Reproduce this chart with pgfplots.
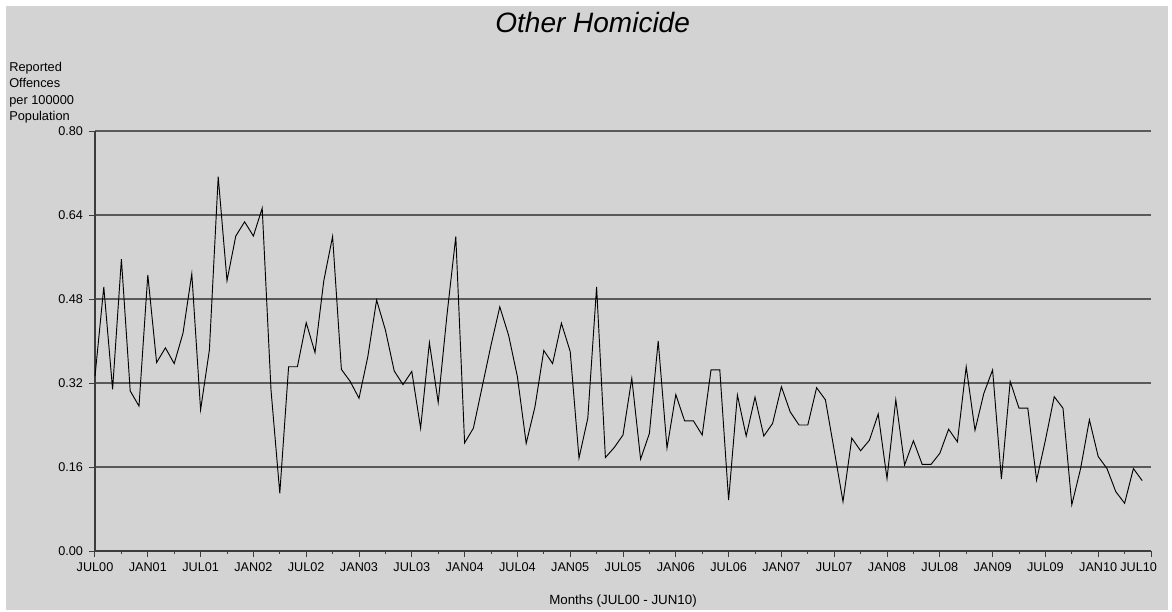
\documentclass[border=0pt]{standalone}
\usepackage{pgfplots}
\pgfplotsset{compat=1.18}
\usepackage{fontspec}
\setmainfont{Liberation Sans}
\definecolor{bggray}{RGB}{211,211,211}
\definecolor{gridc}{RGB}{90,90,90}
\definecolor{axc}{RGB}{60,60,60}
\begin{document}
\begin{tikzpicture}
\fill[white] (0pt,0pt) rectangle (879pt,-458.25pt);
\fill[bggray] (4.5pt,-4.5pt) rectangle (876pt,-457.5pt);
\node[font=\fontsize{21}{25}\selectfont\itshape] at (444.5pt,-17pt) {Other Homicide};
\node[anchor=north west, align=left, inner sep=0pt, font=\fontsize{9.6}{12.3}\selectfont] at (6.75pt,-46.5pt) {Reported\\Offences\\per 100000\\Population};
\node[font=\fontsize{10}{12}\selectfont] at (467.25pt,-451pt) {Months (JUL00 - JUN10)};
\begin{axis}[
  at={(71.25pt,-413.25pt)}, anchor=south west,
  scale only axis, width=792pt, height=315pt,
  xmin=0, xmax=120, ymin=0, ymax=0.8,
  axis x line*=bottom, axis y line*=left,
  axis line style={axc, line width=0.9pt, -},
  xtick={0,6,...,120},
  xticklabels={JUL00,JAN01,JUL01,JAN02,JUL02,JAN03,JUL03,JAN04,JUL04,JAN05,JUL05,JAN06,JUL06,JAN07,JUL07,JAN08,JUL08,JAN09,JUL09,JAN10,{\kern9pt\makebox[0pt][r]{JUL10}}},
  minor xtick={3,9,...,117},
  ytick={0,0.16,0.32,0.48,0.64,0.8},
  yticklabels={0.00,0.16,0.32,0.48,0.64,0.80},
  tick align=outside,
  major tick length=4.5pt, minor tick length=2.25pt,
  tick style={axc, line width=0.75pt},
  ymajorgrids, grid style={gridc, line width=0.9pt},
  ticklabel style={font=\fontsize{9.5}{11}\selectfont, text=black},
  xticklabel style={yshift=-1pt},
  yticklabel style={xshift=-1pt},
  clip=false,
]
\addplot[black, line width=0.7pt, mark=none] table[x=i, y=v] {
i v
0 0.333
1 0.503
2 0.308
3 0.556
4 0.305
5 0.276
6 0.526
7 0.359
8 0.387
9 0.357
10 0.415
11 0.528
12 0.269
13 0.383
14 0.713
15 0.515
16 0.600
17 0.627
18 0.600
19 0.653
20 0.307
21 0.110
22 0.351
23 0.351
24 0.435
25 0.378
26 0.515
27 0.599
28 0.346
29 0.323
30 0.291
31 0.370
32 0.478
33 0.421
34 0.343
35 0.317
36 0.342
37 0.234
38 0.397
39 0.283
40 0.45
41 0.599
42 0.206
43 0.234
44 0.313
45 0.392
46 0.465
47 0.411
48 0.332
49 0.205
50 0.275
51 0.382
52 0.357
53 0.434
54 0.380
55 0.177
56 0.253
57 0.503
58 0.178
59 0.197
60 0.221
61 0.329
62 0.175
63 0.224
64 0.400
65 0.196
66 0.298
67 0.248
68 0.248
69 0.221
70 0.345
71 0.345
72 0.097
73 0.297
74 0.219
75 0.293
76 0.219
77 0.243
78 0.313
79 0.265
80 0.240
81 0.240
82 0.311
83 0.288
84 0.192
85 0.094
86 0.215
87 0.191
88 0.211
89 0.261
90 0.138
91 0.288
92 0.164
93 0.210
94 0.165
95 0.165
96 0.186
97 0.232
98 0.208
99 0.351
100 0.230
101 0.300
102 0.345
103 0.137
104 0.323
105 0.272
106 0.272
107 0.135
108 0.211
109 0.294
110 0.272
111 0.088
112 0.157
113 0.250
114 0.180
115 0.157
116 0.113
117 0.091
118 0.157
119 0.134
};
\end{axis}
\end{tikzpicture}
\end{document}
